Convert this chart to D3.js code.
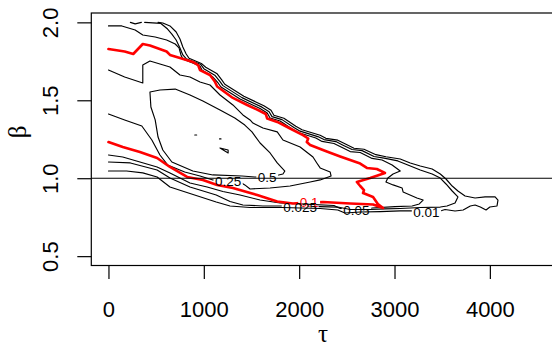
<!DOCTYPE html>
<html><head><meta charset="utf-8">
<script src="https://cdn.jsdelivr.net/npm/d3@7"></script>
<style>html,body{margin:0;padding:0;background:#fff;} svg{display:block;}</style>
</head><body><svg id="c" width="552" height="349"></svg>
<script>
// ---- data (tau, beta) ----
const xTicks = [0, 1000, 2000, 3000, 4000];
const yTicks = [0.5, 1.0, 1.5, 2.0];
const yTickLabels = ["0.5", "1.0", "1.5", "2.0"];
const xLabel = "τ";
const yLabel = "β";
const refBeta = 1.0;

const c001 = [[520,2.0],[570,1.996],[645,1.977],[710,1.938],[750,1.893],[780,1.842],[815,1.797],[845,1.770],[980,1.734],[1020,1.712],[1140,1.670],[1190,1.629],[1220,1.603],[1420,1.526],[1630,1.465],[1705,1.436],[1735,1.404],[1840,1.385],[1965,1.333],[2030,1.311],[2220,1.276],[2280,1.256],[2405,1.244],[2480,1.221],[2575,1.192],[2680,1.186],[2805,1.151],[2910,1.138],[3060,1.123],[3165,1.098],[3270,1.078],[3395,1.059],[3480,1.027],[3540,0.995],[3605,0.950],[3665,0.918],[3740,0.886],[3845,0.873],[3950,0.880],[4055,0.880],[4085,0.860],[4075,0.822],[4000,0.815],[3960,0.796],[3900,0.815],[3845,0.828],[3795,0.822],[3720,0.796],[3635,0.790],[3530,0.799],[3480,0.790],[3270,0.790],[3060,0.790],[2850,0.786],[2640,0.783],[2480,0.777],[2405,0.796],[2220,0.806],[2010,0.809],[1830,0.812],[1485,0.812],[1275,0.822],[1130,0.847],[855,0.902],[645,0.944],[510,1.008],[360,1.034],[190,1.046],[0,1.046]];
const c001b = [[230,2.0],[280,1.990],[345,2.0]];
const c0025 = [[380,2.0],[550,1.993],[620,1.957],[665,1.925],[710,1.887],[750,1.836],[780,1.791],[815,1.767],[970,1.729],[1000,1.703],[1115,1.661],[1170,1.620],[1200,1.594],[1400,1.517],[1610,1.456],[1685,1.427],[1715,1.395],[1820,1.376],[1945,1.325],[2010,1.302],[2195,1.267],[2260,1.248],[2385,1.235],[2460,1.212],[2555,1.184],[2660,1.177],[2785,1.139],[2890,1.129],[3035,1.111],[3140,1.085],[3270,1.053],[3395,1.027],[3480,1.001],[3540,0.963],[3605,0.918],[3665,0.880],[3635,0.841],[3550,0.822],[3480,0.815],[3270,0.812],[3060,0.806],[2900,0.803],[2745,0.799],[2535,0.799],[2405,0.815],[2220,0.818],[2010,0.822],[1830,0.822],[1620,0.822],[1410,0.828],[1275,0.851],[1130,0.892],[855,0.944],[645,1.001],[510,1.053],[230,1.098],[0,1.104]];
const c005 = [[0,1.977],[140,1.977],[280,1.951],[360,1.919],[490,1.906],[610,1.887],[700,1.861],[740,1.836],[760,1.791],[780,1.765],[960,1.720],[980,1.694],[1095,1.649],[1150,1.611],[1180,1.585],[1380,1.508],[1590,1.447],[1665,1.418],[1695,1.386],[1800,1.367],[1925,1.316],[1990,1.293],[2175,1.258],[2240,1.236],[2365,1.223],[2440,1.200],[2535,1.171],[2640,1.165],[2765,1.127],[2870,1.117],[2975,1.085],[3060,1.046],[2985,1.027],[2930,1.001],[2910,0.976],[2985,0.957],[3080,0.937],[3090,0.912],[3235,0.873],[3300,0.860],[3260,0.835],[3185,0.822],[3005,0.818],[2765,0.809],[2585,0.806],[2430,0.806],[2365,0.825],[2010,0.835],[1800,0.841],[1590,0.860],[1380,0.892],[1200,0.915],[1035,0.944],[855,0.969],[645,1.034],[510,1.072],[330,1.104],[150,1.136],[0,1.149]];
const c010 = [[0,1.829],[170,1.813],[260,1.797],[360,1.861],[435,1.852],[610,1.813],[645,1.791],[750,1.771],[885,1.746],[940,1.726],[960,1.694],[1065,1.662],[1115,1.621],[1140,1.588],[1305,1.515],[1455,1.470],[1590,1.431],[1650,1.412],[1665,1.383],[1770,1.361],[1905,1.319],[2040,1.277],[2095,1.255],[2080,1.232],[2115,1.213],[2290,1.171],[2430,1.139],[2640,1.094],[2710,1.066],[2815,1.059],[2900,1.034],[2745,1.001],[2605,0.976],[2640,0.950],[2680,0.924],[2670,0.905],[2775,0.880],[2825,0.835],[2880,0.809],[2775,0.831],[2535,0.838],[2250,0.847],[2010,0.841],[1935,0.838],[1770,0.851],[1560,0.892],[1305,0.937],[1140,0.957],[990,0.989],[825,1.008],[645,1.072],[510,1.130],[330,1.168],[150,1.200],[0,1.232]];
const c025 = [[0,1.694],[170,1.649],[360,1.611],[360,1.726],[435,1.752],[645,1.714],[750,1.662],[855,1.649],[960,1.617],[1065,1.598],[1170,1.534],[1305,1.470],[1410,1.406],[1485,1.374],[1515,1.354],[1620,1.322],[1770,1.297],[1830,1.245],[2010,1.200],[2145,1.136],[2185,1.098],[2220,1.066],[2325,1.040],[2335,1.014],[2220,0.989],[2115,0.976],[1905,0.950],[1695,0.937],[1485,0.931],[1430,0.957],[1380,0.976],[1095,0.989],[960,1.014],[800,1.040],[620,1.085],[540,1.149],[455,1.245],[350,1.335],[170,1.374],[0,1.412]];
const c050 = [[435,1.553],[540,1.566],[700,1.572],[855,1.534],[990,1.495],[1170,1.438],[1325,1.386],[1430,1.341],[1505,1.297],[1590,1.226],[1695,1.162],[1770,1.098],[1850,1.046],[1830,1.027],[1695,1.008],[1535,1.008],[1400,1.014],[1095,1.021],[885,1.046],[665,1.104],[570,1.181],[520,1.264],[490,1.374],[445,1.457],[435,1.553]];
const c075a = [[905,1.277],[925,1.277]];
const c075b = [[1165,1.252],[1180,1.252]];
const c075c = [[1170,1.194],[1255,1.181],[1255,1.162],[1170,1.194]];

const contourLevels = ["0.01","0.025","0.05","0.1","0.25","0.5","0.75"];
const contourPieces = [[c001, c001b],[c0025],[c005],[c010],[c025],[c050],[c075a, c075b, c075c]];
const labelLevels = ["0.25","0.5","0.1","0.025","0.05","0.01"];
const labelTau  = [1255, 1665, 2105, 2010, 2600, 3335];
const labelBeta = [0.982, 1.008, 0.847, 0.812, 0.793, 0.783];

// ---- drawing ----
(function(){
const svg = d3.select("#c");
const W = 552, H = 349;
const pL = 91.3, pR = 554.7, pT = 13, pB = 265.5;
const x = d3.scaleLinear().domain([-180, 4680]).range([pL, pR]);
const y = d3.scaleLinear().domain([0.44, 2.06]).range([pB, pT]);
const font = "'Liberation Sans', Arial, Helvetica, sans-serif";

const defs = svg.append("defs");
defs.append("clipPath").attr("id","plotclip").append("rect")
  .attr("x", pL).attr("y", pT).attr("width", pR-pL).attr("height", pB-pT);

const labG = svg.append("g").attr("class","labels");
const labNodes = labelLevels.map((lv,i) => labG.append("text")
  .attr("x", x(labelTau[i])).attr("y", y(labelBeta[i]))
  .attr("dy", "0.36em").attr("text-anchor","middle")
  .attr("font-family", font).attr("font-size", 13.5)
  .attr("fill", lv === "0.1" ? "#ff0000" : "#000")
  .text(lv));

contourLevels.forEach((lv, k) => {
  const m = defs.append("mask").attr("id", "mask"+k).attr("maskUnits","userSpaceOnUse")
    .attr("x",0).attr("y",0).attr("width",W).attr("height",H);
  m.append("rect").attr("x",0).attr("y",0).attr("width",W).attr("height",H).attr("fill","#fff");
  labelLevels.forEach((l2,i) => {
    if (l2 !== lv) return;
    const bb = labNodes[i].node().getBBox();
    m.append("rect").attr("x", bb.x-1.5).attr("y", bb.y+1).attr("width", bb.width+3).attr("height", bb.height-2).attr("fill","#000");
  });
});

const line = d3.line().x(d => x(d[0])).y(d => y(d[1]));
const plotG = svg.insert("g", ".labels").attr("clip-path","url(#plotclip)");
const order = [0,1,2,4,5,6,3];
order.forEach(k => {
  const red = contourLevels[k] === "0.1";
  const g = plotG.append("g").attr("mask", "url(#mask"+k+")");
  contourPieces[k].forEach(p => {
    g.append("path").attr("d", line(p)).attr("fill","none")
      .attr("stroke", red ? "#ff0000" : "#000")
      .attr("stroke-width", red ? 2.6 : 1.15)
      .attr("stroke-linejoin","round").attr("stroke-linecap","round");
  });
});
plotG.append("line").attr("x1", pL).attr("x2", pR).attr("y1", y(refBeta)).attr("y2", y(refBeta))
  .attr("stroke","#000").attr("stroke-width",1.15);

svg.append("rect").attr("x", pL).attr("y", pT).attr("width", pR-pL).attr("height", pB-pT)
  .attr("fill","none").attr("stroke","#000").attr("stroke-width",1.2);

const xa = svg.append("g").attr("transform", `translate(0,${pB})`)
  .call(d3.axisBottom(x).tickValues(xTicks).tickSizeOuter(0).tickSize(13.5).tickFormat(d3.format("d")));
xa.select(".domain").remove();
xa.selectAll("line").attr("stroke","#000").attr("stroke-width",1.2);
xa.selectAll("text").attr("y", 51.3).attr("dy", null)
  .attr("font-family", font).attr("font-size", 22).attr("fill","#000");

const ya = svg.append("g").attr("transform", `translate(${pL},0)`)
  .call(d3.axisLeft(y).tickValues(yTicks).tickSizeOuter(0).tickSize(14).tickFormat((d,i) => yTickLabels[i]));
ya.select(".domain").remove();
ya.selectAll("line").attr("stroke","#000").attr("stroke-width",1.2);
ya.selectAll("text").attr("x", null).attr("dy", null).attr("y", null)
  .attr("transform", "translate(-33.3,0) rotate(-90)")
  .attr("text-anchor","middle")
  .attr("font-family", font).attr("font-size", 22).attr("fill","#000");

svg.append("text").attr("x", (pL+pR)/2).attr("y", 341.5).attr("text-anchor","middle")
  .attr("font-family","'Liberation Serif', 'DejaVu Serif', serif").attr("font-size", 25).text(xLabel);
svg.append("text").attr("transform", `translate(26,132) rotate(-90)`).attr("text-anchor","middle")
  .attr("font-family","'Liberation Serif', 'DejaVu Serif', serif").attr("font-size", 25).text(yLabel);
})();
</script>
</body></html>
